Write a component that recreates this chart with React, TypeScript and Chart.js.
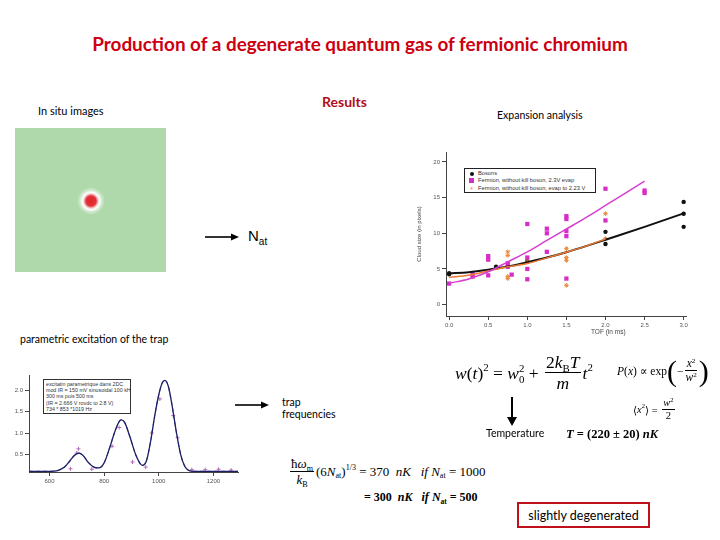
import React, { useEffect, useRef } from "react";
import { Chart, registerables } from "chart.js";
Chart.register(...registerables);

// ---------- Expansion analysis data ----------
const tofTicks = [0, 0.5, 1, 1.5, 2, 2.5, 3];
const sizeTicks = [0, 5, 10, 15, 20];

const bosonT = [0, 0, 0.6, 1.0, 2.0, 2.0, 3.0, 3.0, 3.0];
const bosonW = [4.25, 4.4, 5.3, 6.1, 10.2, 8.5, 14.4, 12.75, 10.9];

const fermT = [0, 0.3, 0.3, 0.5, 0.5, 0.5, 0.75, 0.75, 0.8, 1.0, 1.0, 1.0, 1.0, 1.25, 1.25, 1.25, 1.5, 1.5, 1.5, 1.5, 1.5, 2.0, 2.0, 2.5, 2.5];
const fermW = [2.95, 4.3, 3.95, 6.8, 6.3, 4.1, 5.8, 5.3, 4.2, 11.3, 6.6, 5.0, 3.55, 10.65, 10.0, 7.4, 12.4, 12.0, 10.3, 9.6, 3.65, 16.25, 11.8, 16.0, 15.65];

const evapT = [0.3, 0.75, 0.75, 0.75, 0.75, 0.75, 0.75, 1.0, 1.5, 1.5, 1.5, 1.5, 2.0, 2.0];
const evapW = [3.9, 7.4, 6.9, 5.75, 5.4, 3.95, 3.65, 6.0, 7.85, 6.6, 6.2, 2.7, 12.75, 9.25];

const bosonFitT = [0, 0.25, 0.5, 0.75, 1, 1.25, 1.5, 1.75, 2, 2.5, 3];
const bosonFitW = [4.4, 4.55, 4.9, 5.35, 5.95, 6.6, 7.35, 8.2, 9.1, 10.9, 12.8];
const fermFitT = [0, 0.25, 0.5, 0.75, 1, 1.25, 1.5, 1.75, 2, 2.25, 2.5];
const fermFitW = [3.0, 3.6, 4.6, 6.0, 7.4, 9.0, 10.6, 12.2, 13.9, 15.6, 17.3];
const evapFitT = [0, 0.25, 0.5, 0.75, 1, 1.25, 1.5, 1.75, 2];
const evapFitW = [3.8, 4.1, 4.7, 5.3, 5.75, 6.55, 7.35, 8.2, 9.2];

const legendLabels = [
  "Bosons",
  "Fermion, without kill boson, 2.3V evap",
  "Fermion, without kill boson, evap to 2.23 V",
];

// ---------- Parametric excitation data ----------
const freqTicks = [600, 800, 1000, 1200];
const signalTicks = [0.5, 1.0, 1.5, 2.0];
const fitFreq = [525, 600, 630, 655, 675, 692, 707, 722, 742, 762, 781, 800, 820, 840, 855, 863, 875, 895, 915, 930, 940, 955, 970, 985, 1000, 1012, 1022, 1035, 1050, 1065, 1080, 1095, 1110, 1130, 1290];
const fitSignal = [0.1, 0.1, 0.12, 0.2, 0.35, 0.48, 0.53, 0.48, 0.31, 0.2, 0.18, 0.3, 0.65, 1.05, 1.27, 1.31, 1.25, 0.9, 0.5, 0.3, 0.24, 0.35, 0.8, 1.4, 1.9, 2.17, 2.24, 2.1, 1.6, 1.0, 0.5, 0.22, 0.12, 0.1, 0.1];
const measFreq = [677, 700, 706, 755, 829, 855, 904, 952, 974, 1004, 1053, 1069, 1121, 1170, 1219, 1265];
const measSignal = [0.16, 0.53, 0.63, 0.15, 0.69, 1.13, 0.32, 0.2, 1.0, 1.8, 1.41, 0.89, 0.14, 0.14, 0.15, 0.13];
const noteLines = [
  "excitatin parametrique dans 2DC",
  "mod IR = 150 mV sinusoidal 100 kHz",
  "300 ms puis 500 ms",
  "(IR = 2.666 V rovdc to 2.8 V)",
  "734 * 853 *1019 Hz",
];

const pts = (xs: number[], ys: number[]) => xs.map((x, i) => ({ x, y: ys[i] }));

const axisCommon = (tickVals: number[], fmt: (v: number) => string, min: number, max: number) => ({
  type: "linear" as const,
  min,
  max,
  afterBuildTicks: (s: any) => {
    s.ticks = tickVals.map((v) => ({ value: v }));
  },
  ticks: {
    callback: (v: any) => fmt(Number(v)),
    font: { size: 6, family: "Liberation Sans" },
    color: "#555",
    padding: 2,
    maxRotation: 0,
    autoSkip: false,
  },
  grid: { drawOnChartArea: false, drawTicks: true, tickLength: 4, color: "#444", lineWidth: 1 },
  border: { display: true, color: "#444", width: 1 },
});

function ExpansionChart() {
  const ref = useRef<HTMLCanvasElement>(null);
  useEffect(() => {
    const xAxis: any = axisCommon(tofTicks, (v) => v.toFixed(1), -0.04, 3.03);
    xAxis.afterFit = (s: any) => { s.height = 29; };
    const yAxis: any = axisCommon(sizeTicks, (v) => String(v), -1.6, 21.4);
    yAxis.afterFit = (s: any) => { s.width = 41; };
    yAxis.title = {
      display: true,
      text: "Cloud size (in pixels)",
      font: { size: 6, family: "Liberation Sans" },
      color: "#444",
      padding: { top: 11, bottom: 0 },
    };
    const chart = new Chart(ref.current!, {
      type: "scatter",
      data: {
        datasets: [
          { type: "line", label: "fit magenta", data: pts(fermFitT, fermFitW), borderColor: "#d63ed0", borderWidth: 1.5, pointRadius: 0, cubicInterpolationMode: "monotone", fill: false } as any,
          { type: "line", label: "fit orange", data: pts(evapFitT, evapFitW), borderColor: "#ea7a32", borderWidth: 1.5, pointRadius: 0, cubicInterpolationMode: "monotone", fill: false } as any,
          { type: "line", label: "fit black", data: pts(bosonFitT, bosonFitW), borderColor: "#111", borderWidth: 2, pointRadius: 0, cubicInterpolationMode: "monotone", fill: false } as any,
          { label: legendLabels[1], data: pts(fermT, fermW), pointStyle: "rect", pointRadius: 3, backgroundColor: "#d82cc8", borderColor: "#d82cc8", borderWidth: 0 },
          { label: legendLabels[2], data: pts(evapT, evapW), pointStyle: "star", pointRadius: 2.3, backgroundColor: "#ec8a3c", borderColor: "#ec8a3c", borderWidth: 1 },
          { label: legendLabels[0], data: pts(bosonT, bosonW), pointStyle: "circle", pointRadius: 2.2, backgroundColor: "#111", borderColor: "#111", borderWidth: 0 },
        ],
      },
      options: {
        animation: false,
        responsive: false,
        maintainAspectRatio: false,
        layout: { padding: { top: 7, right: 24, left: 0, bottom: 0 } },
        plugins: { legend: { display: false }, tooltip: { enabled: false } },
        scales: { x: xAxis, y: yAxis },
      },
    });
    return () => chart.destroy();
  }, []);
  return <canvas ref={ref} width={305} height={200} style={{ position: "absolute", left: 405, top: 145, width: 305, height: 200 }} />;
}

function ExcitationChart() {
  const ref = useRef<HTMLCanvasElement>(null);
  useEffect(() => {
    const xAxis: any = axisCommon(freqTicks, (v) => String(v), 525, 1290);
    xAxis.afterFit = (s: any) => { s.height = 23; };
    const yAxis: any = axisCommon(signalTicks, (v) => v.toFixed(1), 0.085, 2.35);
    yAxis.afterFit = (s: any) => { s.width = 29; };
    const chart = new Chart(ref.current!, {
      type: "scatter",
      data: {
        datasets: [
          { type: "line", label: "fit", data: pts(fitFreq, fitSignal), borderColor: "#1e1e60", borderWidth: 1.3, pointRadius: 0, cubicInterpolationMode: "monotone", fill: false } as any,
          { type: "line", label: "fit dashed", data: pts(fitFreq, fitSignal), borderColor: "#5a66e0", borderWidth: 1.1, borderDash: [4, 3], pointRadius: 0, cubicInterpolationMode: "monotone", fill: false } as any,
          { label: "data", data: pts(measFreq, measSignal), pointStyle: "cross", pointRadius: 2, borderColor: "#b46cb4", borderWidth: 1 },
        ],
      },
      options: {
        animation: false,
        responsive: false,
        maintainAspectRatio: false,
        layout: { padding: { top: 5, right: 7, left: 0, bottom: 0 } },
        plugins: { legend: { display: false }, tooltip: { enabled: false } },
        scales: { x: xAxis, y: yAxis },
      },
    });
    return () => chart.destroy();
  }, []);
  return <canvas ref={ref} width={245} height={125} style={{ position: "absolute", left: 0, top: 370, width: 245, height: 125 }} />;
}

const abs = (left: number, top: number, extra: React.CSSProperties = {}): React.CSSProperties => ({
  position: "absolute",
  left,
  top,
  whiteSpace: "nowrap",
  ...extra,
});

const sans: React.CSSProperties = { fontFamily: "Lato, 'Liberation Sans', sans-serif", color: "#000" };
const serif: React.CSSProperties = { fontFamily: "'Liberation Serif', 'DejaVu Serif', serif", color: "#000" };

const Sup = ({ children }: { children: React.ReactNode }) => (
  <span style={{ fontSize: "0.62em", position: "relative", top: "-0.6em" }}>{children}</span>
);
const Sub = ({ children }: { children: React.ReactNode }) => (
  <span style={{ fontSize: "0.62em", position: "relative", top: "0.35em" }}>{children}</span>
);
const Frac = ({ num, den }: { num: React.ReactNode; den: React.ReactNode }) => (
  <span style={{ display: "inline-flex", flexDirection: "column", alignItems: "center", verticalAlign: "middle", margin: "0 2px" }}>
    <span style={{ padding: "0 1px", lineHeight: 1.1 }}>{num}</span>
    <span style={{ borderTop: "1px solid #000", width: "100%", textAlign: "center", lineHeight: 1.2 }}>{den}</span>
  </span>
);

function Arrow({ x, y, len }: { x: number; y: number; len: number }) {
  return (
    <svg style={{ position: "absolute", left: x, top: y - 5 }} width={len} height={10}>
      <line x1={0} y1={5} x2={len - 7} y2={5} stroke="#000" strokeWidth={1.6} />
      <polygon points={`${len - 8},1.5 ${len},5 ${len - 8},8.5`} fill="#000" />
    </svg>
  );
}

export default function App() {
  useEffect(() => {
    document.body.style.margin = "0";
  }, []);
  return (
    <div style={{ position: "relative", width: 720, height: 540, background: "#fff", overflow: "hidden" }}>
      <div style={abs(0, 32, { width: 720, textAlign: "center", fontFamily: "Lato, sans-serif", fontWeight: 700, fontSize: 18.9, color: "#cc0010" })}>
        Production of a degenerate quantum gas of fermionic chromium
      </div>
      <div style={abs(322, 93, { fontFamily: "Lato, sans-serif", fontWeight: 700, fontSize: 14, color: "#b0101c" })}>Results</div>
      <div style={abs(38, 104, { ...sans, fontSize: 11 })}>In situ images</div>
      <div style={abs(497, 109, { ...sans, fontSize: 10.5 })}>Expansion analysis</div>

      {/* in situ image */}
      <div
        style={abs(15, 128, {
          width: 151,
          height: 144,
          background:
            "radial-gradient(circle at 76px 73px, #e0262a 0px, #e23236 5px, #f2c4c4 7px, #ffffff 8.5px, rgba(255,255,255,0.4) 11px, rgba(255,255,255,0) 14px), #afd9ab",
        })}
      />
      <Arrow x={205} y={237} len={34} />
      <div style={abs(248, 227, { fontFamily: "'Liberation Sans', sans-serif", fontSize: 15 })}>
        N<span style={{ fontSize: 10, position: "relative", top: 4 }}>at</span>
      </div>

      <ExpansionChart />
      <div style={abs(464, 168, { width: 132, height: 25, border: "1px solid #222", background: "#fff", fontFamily: "'Liberation Sans', sans-serif", fontSize: 5.7, color: "#333", lineHeight: "7.3px", padding: "1px 0 0 0", boxSizing: "border-box", overflow: "hidden" })}>
        {legendLabels.map((l, i) => (
          <div key={l} style={{ display: "flex", alignItems: "center", height: 7.3 }}>
            <span style={{ width: 13, display: "inline-flex", justifyContent: "center" }}>
              {i === 0 && <span style={{ width: 4, height: 4, borderRadius: 2, background: "#111" }} />}
              {i === 1 && <span style={{ width: 5, height: 5, background: "#d82cc8" }} />}
              {i === 2 && <span style={{ color: "#ec8a3c", fontSize: 8, lineHeight: "7px", position: "relative", top: 1 }}>*</span>}
            </span>
            {l}
          </div>
        ))}
      </div>
      <div style={abs(591, 328, { fontFamily: "'Liberation Sans', sans-serif", fontSize: 6.5, color: "#444" })}>TOF (in ms)</div>

      <div style={abs(20, 333, { ...sans, fontSize: 10.5 })}>parametric excitation of the trap</div>
      <ExcitationChart />
      <div style={abs(43, 379, { width: 88, height: 35, border: "1px solid #333", background: "#fff", fontFamily: "'Liberation Sans', sans-serif", fontSize: 5.3, color: "#333", lineHeight: "6.2px", padding: "1px 2px", boxSizing: "border-box", overflow: "hidden" })}>
        {noteLines.map((l) => (
          <div key={l}>{l}</div>
        ))}
      </div>

      <Arrow x={235} y={405} len={34} />
      <div style={abs(282, 396, { ...sans, fontSize: 10.5, lineHeight: "12px" })}>
        trap
        <br />
        frequencies
      </div>

      {/* formulas */}
      <div style={abs(455, 353, { ...serif, fontSize: 17.5, display: "flex", alignItems: "center" })}>
        <i>w</i>(<i>t</i>)<Sup>2</Sup>&nbsp;=&nbsp;<i>w</i>
        <span style={{ display: "inline-flex", flexDirection: "column", fontSize: "0.62em", lineHeight: 1 }}>
          <span>2</span>
          <span>0</span>
        </span>
        &nbsp;+&nbsp;
        <Frac num={<>2<i>k</i><Sub>B</Sub><i>T</i></>} den={<i>m</i>} />
        <i>t</i><Sup>2</Sup>
      </div>
      <div style={abs(617, 356, { ...serif, fontSize: 11.5, display: "flex", alignItems: "center" })}>
        <i>P</i>(<i>x</i>)&nbsp;∝&nbsp;exp
        <span style={{ fontSize: 30, lineHeight: "30px", fontWeight: 100 }}>(</span>
        −
        <Frac num={<><i>x</i><Sup>2</Sup></>} den={<><i>w</i><Sup>2</Sup></>} />
        <span style={{ fontSize: 30, lineHeight: "30px", fontWeight: 100 }}>)</span>
      </div>
      <div style={abs(633, 397, { ...serif, fontSize: 10.5, display: "flex", alignItems: "center" })}>
        ⟨<i>x</i><Sup>2</Sup>⟩&nbsp;=&nbsp;
        <Frac num={<><i>w</i><Sup>2</Sup></>} den={<>2</>} />
      </div>
      <svg style={{ position: "absolute", left: 506, top: 397 }} width={12} height={30}>
        <line x1={6} y1={0} x2={6} y2={22} stroke="#000" strokeWidth={2} />
        <polygon points="1,20 11,20 6,29" fill="#000" />
      </svg>
      <div style={abs(486, 427, { ...sans, fontSize: 10.5 })}>Temperature</div>
      <div style={abs(566, 427, { ...serif, fontSize: 12.5, fontWeight: 700 })}>
        <i>T</i> = (220 ± 20) <i>nK</i>
      </div>
      <div style={abs(288, 457, { ...serif, fontSize: 13, display: "flex", alignItems: "center" })}>
        <Frac num={<>ħ<i>ω</i><Sub>m</Sub></>} den={<><i>k</i><Sub>B</Sub></>} />
        (6<i>N</i><Sub>at</Sub>)<Sup>1/3</Sup>&nbsp;= 370&nbsp;&nbsp;<i>nK</i>&nbsp;&nbsp;&nbsp;<i>if</i>&nbsp;<i>N</i><Sub>at</Sub>&nbsp;= 1000
      </div>
      <div style={abs(364, 490, { ...serif, fontSize: 12, fontWeight: 700 })}>
        = 300&nbsp;&nbsp;<i>nK</i>&nbsp;&nbsp;&nbsp;<i>if</i>&nbsp;<i>N</i><Sub>at</Sub>&nbsp;= 500
      </div>
      <div style={abs(517, 502, { width: 133, height: 26, border: "2px solid #c0101c", boxSizing: "border-box", display: "flex", alignItems: "center", justifyContent: "center", ...sans, fontSize: 12.5 })}>
        slightly degenerated
      </div>
    </div>
  );
}
